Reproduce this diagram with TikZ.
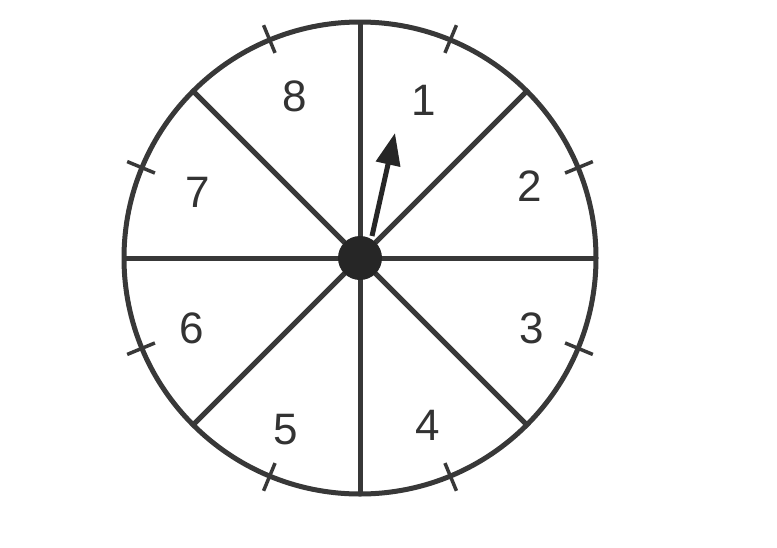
\documentclass[tikz,border=0pt]{standalone}
\usepackage{fontspec}
\setmainfont{Liberation Sans}
\usetikzlibrary{arrows.meta,calc}
\begin{document}
\begin{tikzpicture}[x=1pt,y=-1pt,
  ln/.style={draw=black!78,line width=5pt},
  lbl/.style={font=\fontsize{44}{48}\selectfont,text=black!80,inner sep=0pt},
  tick/.style={draw=black!78,line width=3.5pt}]
\useasboundingbox[fill=white] (0,0) rectangle (777,547);
\coordinate (c) at (360,258);
\draw[ln] (c) circle (236);
\foreach \a in {0,45,...,315}{
  \draw[ln] (c) -- ++(\a:236);
}
\foreach \a in {22.5,67.5,...,337.5}{
  \draw[tick] ($(c)+(-\a:222)$) -- ($(c)+(-\a:252)$);
}
\node[circle,fill=black!85,minimum size=44pt,inner sep=0pt] (hub) at (c) {};
\coordinate (tip) at (395,133);
\coordinate (base) at (372,236);
\draw[draw=black!85,line width=5pt,-{Triangle[length=32pt,width=24pt]}] (base) -- (tip);
\node[lbl] (n1) at (424,100) {1};
\node[lbl] (n2) at (530,186) {2};
\node[lbl] (n3) at (532,328) {3};
\node[lbl] (n4) at (428,425) {4};
\node[lbl] (n5) at (286,430) {5};
\node[lbl] (n6) at (192,328) {6};
\node[lbl] (n7) at (198,192) {7};
\node[lbl] (n8) at (295,96) {8};
\end{tikzpicture}
\end{document}
